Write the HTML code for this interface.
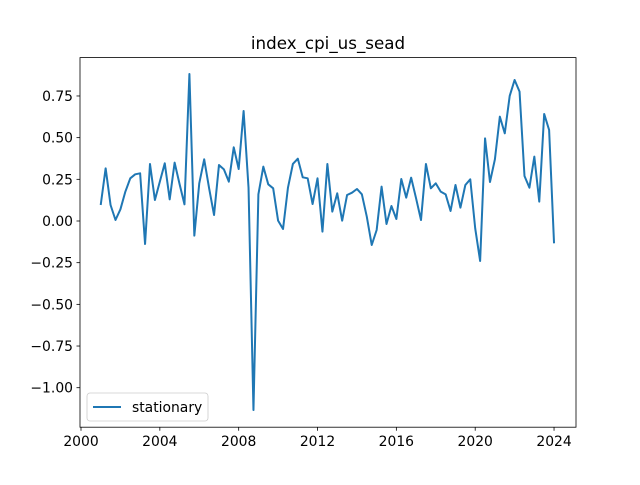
<!DOCTYPE html>
<html><head><meta charset="utf-8"><style>
body{margin:0;background:#fff}
svg text{font-family:"DejaVu Sans","Liberation Sans",sans-serif;fill:#000}
</style></head><body>
<svg id="chart" width="640" height="480" viewBox="0 0 640 480" xmlns="http://www.w3.org/2000/svg">
<rect width="640" height="480" fill="#fff"/>
<text x="328" y="49" text-anchor="middle" font-size="16.7">index_cpi_us_sead</text>
<g id="xt"></g>
<g id="yt"></g>
<path id="line" fill="none" stroke="#1f77b4" stroke-width="2" stroke-linejoin="round"/>
<rect x="80" y="57.6" width="496" height="369.6" fill="none" stroke="#000" stroke-width="0.8"/>
<g>
<rect x="87" y="393" width="121" height="28" rx="3" fill="#fff" fill-opacity="0.8" stroke="#ccc" stroke-width="0.8"/>
<line x1="93" y1="407" x2="121" y2="407" stroke="#1f77b4" stroke-width="2"/>
<text x="132" y="412" font-size="13.9">stationary</text>
</g>
</svg>
<script>
const startYear = 2001;
const stepYears = 0.25;
const values = [0.096,0.316,0.096,0.006,0.07,0.176,0.256,0.28,0.286,-0.138,0.342,0.126,0.236,0.346,0.13,0.35,0.222,0.1,0.882,-0.088,0.226,0.37,0.196,0.036,0.336,0.31,0.236,0.442,0.312,0.66,0.2,-1.134,0.16,0.326,0.22,0.196,0.002,-0.048,0.2,0.342,0.374,0.262,0.256,0.102,0.256,-0.064,0.342,
0.056,0.166,0.002,0.156,0.17,0.192,0.16,0.026,-0.144,-0.054,0.206,-0.018,0.09,0.012,0.252,0.14,0.26,0.136,0.006,0.342,0.196,0.226,0.176,0.16,0.06,0.216,0.08,0.216,0.25,-0.044,-0.24,0.496,0.234,0.37,0.626,0.526,0.75,0.846,0.776,0.27,0.2,0.386,0.116,0.642,0.546,-0.134];
const xTicks = [2000,2004,2008,2012,2016,2020,2024];
const yTicks = [0.75,0.5,0.25,0,-0.25,-0.5,-0.75,-1.0];
const yTickLabels = ["0.75","0.50","0.25","0.00","\u22120.25","\u22120.50","\u22120.75","\u22121.00"];
const NS="http://www.w3.org/2000/svg";
function X(yr){return 81+(yr-2000)*19.71;}
function Y(v){return 221-v*166.7;}
let d="";
values.forEach((v,i)=>{d+=(i?"L":"M")+X(startYear+i*stepYears).toFixed(2)+" "+Y(v).toFixed(2);});
document.getElementById("line").setAttribute("d",d);
const xt=document.getElementById("xt"), yt=document.getElementById("yt");
xTicks.forEach(t=>{
  const l=document.createElementNS(NS,"line");
  l.setAttribute("x1",X(t));l.setAttribute("x2",X(t));l.setAttribute("y1",427.2);l.setAttribute("y2",430.7);
  l.setAttribute("stroke","#000");l.setAttribute("stroke-width","0.8");
  
  
  xt.appendChild(l);
  const tx=document.createElementNS(NS,"text");
  tx.setAttribute("x",X(t));tx.setAttribute("y",446);tx.setAttribute("text-anchor","middle");tx.setAttribute("font-size","13.9");
  tx.textContent=t;
  
  
  xt.appendChild(tx);
});
yTicks.forEach((t,i)=>{
  const l=document.createElementNS(NS,"line");
  l.setAttribute("x1",76.5);l.setAttribute("x2",80);l.setAttribute("y1",Y(t));l.setAttribute("y2",Y(t));
  l.setAttribute("stroke","#000");l.setAttribute("stroke-width","0.8");
  
  
  yt.appendChild(l);
  const tx=document.createElementNS(NS,"text");
  tx.setAttribute("x",73);tx.setAttribute("y",Y(t)+5);tx.setAttribute("text-anchor","end");tx.setAttribute("font-size","13.9");
  tx.textContent=yTickLabels[i];
  
  
  yt.appendChild(tx);
});
</script>
</body></html>
